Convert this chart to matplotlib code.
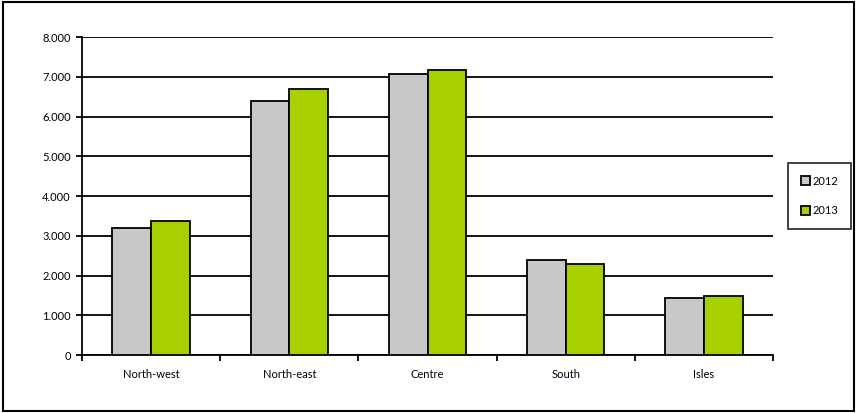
import numpy as np
import matplotlib
matplotlib.use("Agg")
import matplotlib.pyplot as plt
from matplotlib.patches import Rectangle
from matplotlib.ticker import FuncFormatter, FixedLocator

regions = ["North-west", "North-east", "Centre", "South", "Isles"]
years = ["2012", "2013"]
values_2012 = [3190, 6400, 7070, 2390, 1430]
values_2013 = [3380, 6680, 7160, 2290, 1480]
colors = ["#c8c8c8", "#a8d000"]

plt.rcParams["font.family"] = ["Lato", "DejaVu Sans"]

fig = plt.figure(figsize=(8.57, 4.13), dpi=100)
ax = fig.add_axes([0.0957, 0.1404, 0.8063, 0.77])

x = np.arange(len(regions))
w = 0.28
ax.bar(x - w / 2, values_2012, w, color=colors[0], edgecolor="black", linewidth=1.3, label=years[0], zorder=3)
ax.bar(x + w / 2, values_2013, w, color=colors[1], edgecolor="black", linewidth=1.3, label=years[1], zorder=3)

ax.set_xlim(-0.5, len(regions) - 0.5)
ax.set_ylim(0, 8000)
ax.set_yticks(np.arange(0, 8001, 1000))
ax.yaxis.set_major_formatter(FuncFormatter(lambda v, p: "0" if v == 0 else f"{int(v):,}".replace(",", ".")))
ax.yaxis.grid(True, color="black", linewidth=1.3, zorder=0)
ax.set_axisbelow(True)

ax.set_xticks(x)
ax.set_xticklabels(regions)
ax.xaxis.set_minor_locator(FixedLocator(np.arange(-0.5, len(regions), 1.0)))
ax.tick_params(axis="x", which="major", length=0, pad=10, labelsize=8)
ax.tick_params(axis="x", which="minor", length=4, width=1.3, color="black")
ax.tick_params(axis="y", length=4, width=1.3, labelsize=8, pad=4)

for s in ["top", "right"]:
    ax.spines[s].set_visible(False)
for s in ["left", "bottom"]:
    ax.spines[s].set_linewidth(1.3)
    ax.spines[s].set_color("black")

leg = ax.legend(loc="center left", bbox_to_anchor=(1.022, 0.5), frameon=True, fancybox=False,
                edgecolor="black", fontsize=8, handlelength=0.8, handleheight=0.8,
                handletextpad=0.25, labelspacing=1.7, borderpad=1.15, borderaxespad=0)
leg.get_frame().set_linewidth(1.3)

fig.patches.append(Rectangle((0.004, 0.006), 0.992, 0.988, transform=fig.transFigure,
                             fill=False, edgecolor="black", linewidth=1.5))

fig.savefig("out.png", dpi=100)
